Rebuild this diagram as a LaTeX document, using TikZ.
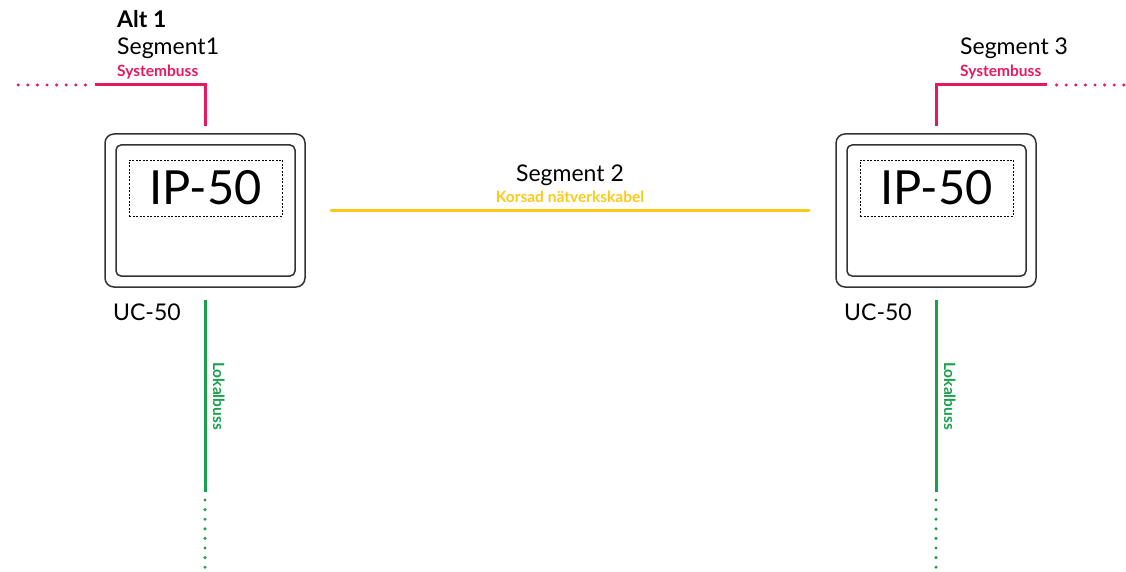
\documentclass[tikz,border=0pt]{standalone}
\usepackage{fontspec}
\setmainfont{Lato}
\definecolor{pinkbus}{HTML}{E6195E}
\definecolor{greenbus}{HTML}{18A04A}
\definecolor{yellowbus}{HTML}{FFC91A}
\definecolor{boxline}{HTML}{333333}
\begin{document}
\begin{tikzpicture}[x=1pt,y=-1pt,
  outerbox/.style={draw=boxline,line width=1.5pt,rounded corners=9pt,minimum width=200pt,minimum height=153pt,inner sep=0pt},
  innerbox/.style={draw=boxline,line width=1.5pt,rounded corners=5pt,minimum width=179pt,minimum height=131pt,inner sep=0pt},
  ipbox/.style={draw=black,dashed,dash pattern=on 2pt off 1.5pt,line width=0.8pt,minimum width=153pt,minimum height=56pt,inner sep=0pt,font=\fontsize{47}{50}\selectfont},
  bigtxt/.style={font=\fontsize{23}{26}\selectfont,inner sep=0pt},
  smalltxt/.style={font=\fontsize{15.5}{17}\selectfont\bfseries,inner sep=0pt},
  pinkline/.style={draw=pinkbus,line width=3pt},
  pinkdot/.style={draw=pinkbus,line width=3.4pt,line cap=round,dash pattern=on 0pt off 9.6pt},
  greenline/.style={draw=greenbus,line width=3pt},
  greendot/.style={draw=greenbus,line width=3.4pt,line cap=round,dash pattern=on 0pt off 9.6pt},
  yellowline/.style={draw=yellowbus,line width=3pt,line cap=round}]
\useasboundingbox (0,0) rectangle (1126,572);
% left unit
\node[outerbox] (LO) at (205,210.5) {};
\node[innerbox] (LI) at (205.5,210.5) {};
\node[ipbox] (LIP) at (205.5,188) {IP-50};
\node[bigtxt,anchor=base west] (LUC) at (113,320) {UC-50};
% right unit
\node[outerbox] (RO) at (936,210.5) {};
\node[innerbox] (RI) at (936.5,210.5) {};
\node[ipbox] (RIP) at (936.5,188) {IP-50};
\node[bigtxt,anchor=base west] (RUC) at (844,320) {UC-50};
% left top labels
\node[bigtxt,font=\fontsize{23}{26}\selectfont\bfseries,anchor=base west] (alt) at (117,28) {Alt 1};
\node[bigtxt,anchor=base west] (seg1) at (117,55) {Segment1};
\node[smalltxt,text=pinkbus,anchor=base west] (sb1) at (117,77) {Systembuss};
% right top labels
\node[bigtxt,anchor=base west] (seg3) at (960,55) {Segment 3};
\node[smalltxt,text=pinkbus,anchor=base west] (sb3) at (960,77) {Systembuss};
% middle labels
\node[bigtxt,anchor=base] (seg2) at (570,182) {Segment 2};
\node[smalltxt,text=yellowbus,anchor=base] (kn) at (570,202) {Korsad nätverkskabel};
% coordinates
\coordinate (LT) at (205,126);
\coordinate (LC) at (205,85);
\coordinate (LS) at (95,85);
\coordinate (LE) at (10,85);
\coordinate (RT) at (936,126);
\coordinate (RC) at (936,85);
\coordinate (RS) at (1047,85);
\coordinate (RE) at (1124,85);
\coordinate (LG1) at (205,300);
\coordinate (LG2) at (205,492);
\coordinate (LG3) at (205,572);
\coordinate (RG1) at (936,300);
\coordinate (RG2) at (936,492);
\coordinate (RG3) at (936,572);
\coordinate (Y1) at (331,210);
\coordinate (Y2) at (809,210);
% system bus
\draw[pinkline] (LT) -- (LC) -- (LS);
\draw[pinkdot] (LS) ++(-9.6,0) -- (LE);
\draw[pinkline] (RT) -- (RC) -- (RS);
\draw[pinkdot] (RS) ++(9.6,0) -- (RE);
% local bus
\draw[greenline] (LG1) -- (LG2);
\draw[greendot] (LG2) ++(0,8) -- (LG3);
\draw[greenline] (RG1) -- (RG2);
\draw[greendot] (RG2) ++(0,8) -- (RG3);
\node[smalltxt,text=greenbus,rotate=-90,anchor=base west] (lk1) at (213,362) {Lokalbuss};
\node[smalltxt,text=greenbus,rotate=-90,anchor=base west] (lk2) at (944,362) {Lokalbuss};
% crossed cable
\draw[yellowline] (Y1) -- (Y2);
\end{tikzpicture}
\end{document}
